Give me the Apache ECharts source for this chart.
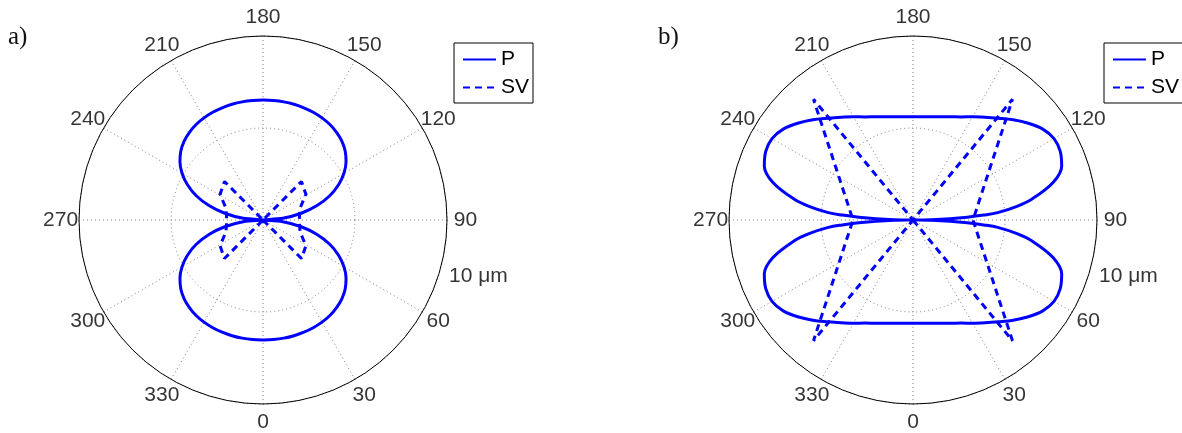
<!DOCTYPE html>
<html>
<head>
<meta charset="utf-8">
<script src="https://cdn.jsdelivr.net/npm/echarts@6/dist/echarts.min.js"></script>
<style>
  html, body { margin: 0; padding: 0; background: #fff; }
  #chart { width: 1182px; height: 433px; }
</style>
</head>
<body>
<div id="chart"></div>
<script>
// Angle ticks in degrees: 0 at the bottom, increasing counter-clockwise
const tickAngles = [0, 30, 60, 90, 120, 150, 180, 210, 240, 270, 300, 330];
const tickLabels = ['0', '30', '60', '90', '120', '150', '180', '210', '240', '270', '300', '330'];
const radiusMax = 10;      // outer circle, micrometres
const radiusRing = 5;      // inner dotted ring
const radiusLabel = '10 μm';
const panelTags = ['a)', 'b)'];
const seriesNames = ['P', 'SV'];

// Panel a: P pattern (angle in degrees, radius in µm)
const aPAngles = [0,5,10,15,20,25,30,35,40,45,50,55,60,65,70,75,80,85,90,
  95,100,105,110,115,120,125,130,135,140,145,150,155,160,165,170,175,180,
  185,190,195,200,205,210,215,220,225,230,235,240,245,250,255,260,265,270,
  275,280,285,290,295,300,305,310,315,320,325,330,335,340,345,350,355,360];
const aPRadii = [6.52,6.52,6.52,6.51,6.49,6.46,6.41,6.34,6.22,6.06,5.83,5.51,5.08,4.53,3.86,3.04,2.11,1.08,0,
  1.08,2.11,3.04,3.86,4.53,5.08,5.51,5.83,6.06,6.22,6.34,6.41,6.46,6.49,6.51,6.52,6.52,6.52,
  6.52,6.52,6.51,6.49,6.46,6.41,6.34,6.22,6.06,5.83,5.51,5.08,4.53,3.86,3.04,2.11,1.08,0,
  1.08,2.11,3.04,3.86,4.53,5.08,5.51,5.83,6.06,6.22,6.34,6.41,6.46,6.49,6.51,6.52,6.52,6.52];

// Panel a: SV pattern
const aSVAngles = [0,45,59,72.5,90,107.5,121,135,180,225,239,252.5,270,287.5,301,315,360];
const aSVRadii  = [0,2.96,2.72,2.11,1.97,2.11,2.72,2.96,0,2.96,2.72,2.11,1.97,2.11,2.72,2.96,0];

// Panel b: P pattern
const bPAngles = [0,5,10,15,20,25,30,35,40,45,50,55,60,65,70,75,80,82.5,85,86,87,88,89,90,
  91,92,93,94,95,97.5,100,105,110,115,120,125,130,135,140,145,150,155,160,165,170,175,180,
  185,190,195,200,205,210,215,220,225,230,235,240,245,250,255,260,262.5,265,266,267,268,269,270,
  271,272,273,274,275,277.5,280,285,290,295,300,305,310,315,320,325,330,335,340,345,350,355,360];
const bPRadii = [5.61,5.63,5.70,5.81,5.97,6.18,6.48,6.82,7.22,7.70,8.18,8.61,8.85,8.83,8.60,7.88,6.57,5.70,4.62,3.85,2.95,2.02,1.01,0,
  1.01,2.02,2.95,3.85,4.62,5.70,6.57,7.88,8.60,8.83,8.85,8.61,8.18,7.70,7.22,6.82,6.48,6.18,5.97,5.81,5.70,5.63,5.61,
  5.63,5.70,5.81,5.97,6.18,6.48,6.82,7.22,7.70,8.18,8.61,8.85,8.83,8.60,7.88,6.57,5.70,4.62,3.85,2.95,2.02,1.01,0,
  1.01,2.02,2.95,3.85,4.62,5.70,6.57,7.88,8.60,8.83,8.85,8.61,8.18,7.70,7.22,6.82,6.48,6.18,5.97,5.81,5.70,5.63,5.61];

// Panel b: SV pattern
const bSVAngles = [0,39.5,90,140.5,180,219.5,270,320.5,360];
const bSVRadii  = [0,8.5,3.26,8.5,0,8.5,3.26,8.5,0];

const BLUE = '#0000ff';
const SANS = '"Liberation Sans", Arial, Helvetica, sans-serif';
const SERIF = '"Liberation Serif", "DejaVu Serif", serif';

const panels = [
  { center: [263, 220], P: [aPAngles, aPRadii], SV: [aSVAngles, aSVRadii], legendLeft: 454, tagLeft: 8 },
  { center: [913, 220], P: [bPAngles, bPRadii], SV: [bSVAngles, bSVRadii], legendLeft: 1104, tagLeft: 658 }
];

// polar data items are [radius, angle]
const zip = (angles, radii) => angles.map((a, i) => [radii[i], a]);

const labelStyle = { show: true, position: 'inside', color: '#000', fontFamily: SANS, fontSize: 21 };

const option = {
  animation: false,
  backgroundColor: '#fff',
  title: panels.map((p, i) => ({
    text: panelTags[i], left: p.tagLeft, top: 25, padding: 0,
    textStyle: { fontFamily: SERIF, fontSize: 25, fontWeight: 'normal', color: '#111' }
  })),
  polar: panels.map(p => ({ center: p.center, radius: 184 })),
  angleAxis: panels.map((p, i) => ({
    polarIndex: i, type: 'value', min: 0, max: 360, interval: 30,
    startAngle: 270, clockwise: false,
    axisLine: { show: true, lineStyle: { color: '#000', width: 1 } },
    axisTick: { show: false }, axisLabel: { show: false },
    splitLine: { show: true, lineStyle: { color: '#808080', width: 1, type: [1, 3] } }
  })),
  radiusAxis: panels.map((p, i) => ({
    polarIndex: i, type: 'value', min: 0, max: radiusMax, interval: radiusRing,
    axisLine: { show: false }, axisTick: { show: false }, axisLabel: { show: false },
    splitLine: { show: true, lineStyle: { color: '#808080', width: 1, type: [1, 3] } }
  })),
  legend: panels.map(p => ({
    data: seriesNames, orient: 'vertical', left: p.legendLeft, top: 43,
    itemWidth: 33, itemHeight: 14, itemGap: 7, padding: [6, 4, 5, 8],
    borderColor: '#000', borderWidth: 1, backgroundColor: '#fff', selectedMode: false,
    itemStyle: { color: 'rgba(0,0,0,0)', borderColor: 'rgba(0,0,0,0)', borderWidth: 0, opacity: 0 },
    textStyle: { fontFamily: SANS, fontSize: 21, color: '#000' }
  })),
  series: panels.flatMap((p, i) => [
    { type: 'line', name: 'P', coordinateSystem: 'polar', polarIndex: i, data: zip(...p.P),
      symbol: 'none', silent: true, smooth: 0.35, itemStyle: { color: BLUE },
      lineStyle: { color: BLUE, width: 3 }, z: 3 },
    { type: 'line', name: 'SV', coordinateSystem: 'polar', polarIndex: i, data: zip(...p.SV),
      symbol: 'none', silent: true, itemStyle: { color: BLUE },
      lineStyle: { color: BLUE, width: 3, type: [7, 5] }, z: 3 },
    { type: 'scatter', name: 'angle-labels', coordinateSystem: 'polar', polarIndex: i, clip: false,
      silent: true, symbolSize: 1, itemStyle: { color: 'rgba(0,0,0,0)' },
      label: Object.assign({ align: 'center', verticalAlign: 'middle' }, labelStyle),
      data: tickAngles.map((a, k) => ({ value: [radiusMax * 1.1, a], label: { formatter: tickLabels[k] } })) },
    { type: 'scatter', name: 'radius-label', coordinateSystem: 'polar', polarIndex: i, clip: false,
      silent: true, symbolSize: 1, itemStyle: { color: 'rgba(0,0,0,0)' },
      label: Object.assign({ align: 'left', verticalAlign: 'middle', formatter: radiusLabel }, labelStyle),
      data: [[10.56, 73.25]] }
  ])
};

const chart = echarts.init(document.getElementById('chart'), null, { renderer: 'canvas' });
chart.setOption(option);
</script>
</body>
</html>
